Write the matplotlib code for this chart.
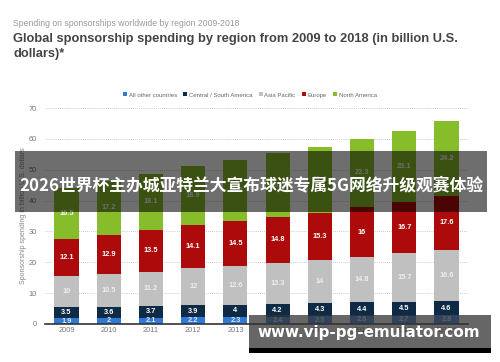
import matplotlib
matplotlib.use("Agg")
import matplotlib.pyplot as plt
from matplotlib.patches import Rectangle, Patch
import numpy as np

years = ["2009", "2010", "2011", "2012", "2013", "2014", "2015", "2016", "2017", "2018**"]
other = [1.9, 2, 2.1, 2.2, 2.3, 2.4, 2.5, 2.6, 2.7, 2.8]
central_south = [3.5, 3.6, 3.7, 3.9, 4, 4.2, 4.3, 4.4, 4.5, 4.6]
asia_pacific = [10, 10.5, 11.2, 12, 12.6, 13.3, 14, 14.8, 15.7, 16.6]
europe = [12.1, 12.9, 13.5, 14.1, 14.5, 14.8, 15.3, 16, 16.7, 17.6]
north_america = [16.5, 17.2, 18.1, 18.9, 19.8, 20.6, 21.4, 22.3, 23.1, 24.2]

series_names = ["All other countries", "Central / South America", "Asia Pacific", "Europe", "North America"]
series = [other, central_south, asia_pacific, europe, north_america]
colors = ["#2f7ad6", "#0f2a45", "#c0c0c0", "#ad0b0b", "#87bd2a"]
label_colors = ["#d8e6f8", "white", "#eeeeee", "white", "white"]

W, H = 500, 362
fig = plt.figure(figsize=(W / 100, H / 100), dpi=100)
plt.rcParams['font.family'] = ['Liberation Sans', 'DejaVu Sans']

ax = fig.add_axes([45 / W, 1 - 324 / H, (468 - 45) / W, (324 - 108) / H])
x = np.arange(len(years))
bottom = np.zeros(len(years))
for vals, c, lc in zip(series, colors, label_colors):
    v = np.array(vals, dtype=float)
    ax.bar(x, v, bottom=bottom, width=0.57, color=c, zorder=3)
    for xi, b, val in zip(x, bottom, v):
        ax.text(xi, b + val / 2, f"{val:g}", ha="center", va="center",
                fontsize=5.3, color=lc, fontweight="bold", zorder=4)
    bottom += v

ax.set_xlim(-0.51, 9.51)
ax.set_ylim(0, 70)
ax.set_yticks(range(0, 71, 10))
ax.yaxis.grid(True, linestyle=(0, (1, 1.5)), color="#bbbbbb", linewidth=0.6, zorder=0)
for s in ["top", "right", "left"]:
    ax.spines[s].set_visible(False)
ax.spines["bottom"].set_color("#333333")
ax.spines["bottom"].set_linewidth(1.2)
ax.spines["bottom"].set_zorder(5)
ax.tick_params(axis="both", length=0, labelsize=5.3, labelcolor="#777777")
ax.tick_params(axis="y", pad=6)
ax.tick_params(axis="x", pad=2)
ax.set_xticks(x)
ax.set_xticklabels(years)
ax.set_ylabel("Sponsorship spending in billion U.S. dollars", fontsize=5, color="#888888", labelpad=1)

handles = [Patch(facecolor=c, label=n) for c, n in zip(colors, series_names)]
fig.legend(handles=handles, loc="center", bbox_to_anchor=(0.5, 1 - 95 / H), ncol=5,
           frameon=False, fontsize=4.3, handlelength=0.6, handleheight=0.6,
           handletextpad=0.3, columnspacing=1.1, labelcolor="#666666")

fig.text(13 / W, 1 - 24 / H, "Spending on sponsorships worldwide by region 2009-2018",
         fontsize=6.2, color="#999999", va="center", ha="left")
fig.text(13 / W, 1 - 39 / H, "Global sponsorship spending by region from 2009 to 2018 (in billion U.S.",
         fontsize=9.3, color="#444444", fontweight="bold", va="center", ha="left")
fig.text(13 / W, 1 - 54 / H, "dollars)*",
         fontsize=9.3, color="#444444", fontweight="bold", va="center", ha="left")

# overlay banner
fig.patches.append(Rectangle((15 / W, 1 - 212 / H), (487 - 15) / W, (212 - 151) / H,
                             transform=fig.transFigure, facecolor="black", alpha=0.57,
                             edgecolor="none", zorder=10))
fig.text(251 / W, 1 - 185 / H, "2026世界杯主办城亚特兰大宣布球迷专属5G网络升级观赛体验",
         fontsize=12.1, color="white", fontweight="bold", ha="center", va="center",
         family=["Noto Sans CJK SC", "DejaVu Sans"], zorder=11)

# watermark box
fig.patches.append(Rectangle((249 / W, 1 - 348 / H), (491 - 249) / W, (348 - 315) / H,
                             transform=fig.transFigure, facecolor="#333333", alpha=0.75,
                             edgecolor="none", zorder=10))
fig.patches.append(Rectangle((249 / W, 1 - 353 / H), (491 - 249) / W, 5 / H,
                             transform=fig.transFigure, facecolor="black",
                             edgecolor="none", zorder=10))
fig.text(369 / W, 1 - 333 / H, "www.vip-pg-emulator.com",
         fontsize=10.9, color="white", fontweight="bold", ha="center", va="center",
         family=["DejaVu Sans"], zorder=11)

fig.savefig("out.png", dpi=100)
